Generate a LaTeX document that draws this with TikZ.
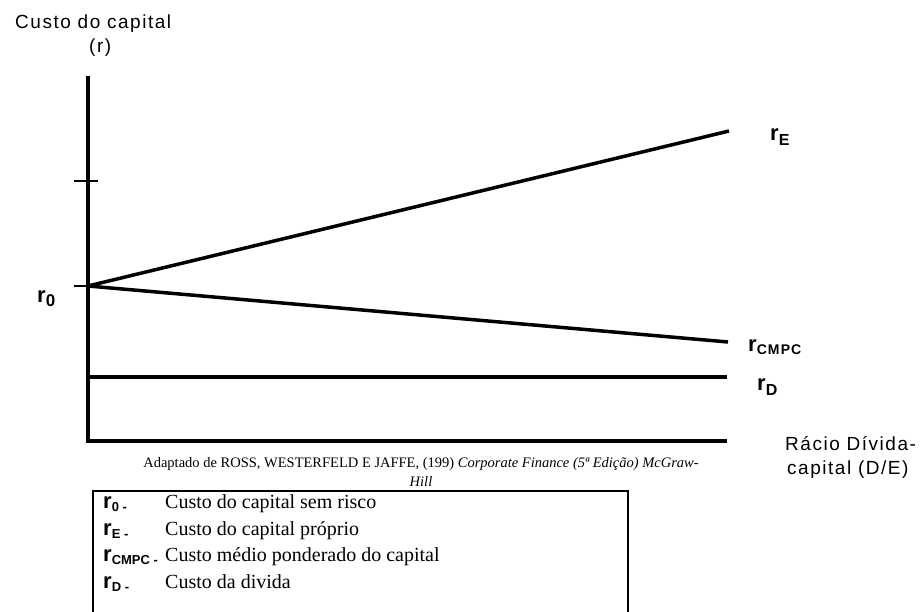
\documentclass[tikz,border=0pt]{standalone}
\usepackage{fontspec}
\setmainfont{Liberation Serif}
\newfontfamily\arial{Liberation Sans}
\newfontfamily\arialsp[LetterSpace=8]{Liberation Sans}
\begin{document}
\begin{tikzpicture}[x=1pt,y=-1pt,
  axis/.style={line width=4.5pt},
  curve/.style={line width=3.5pt},
  lab/.style={font=\arialsp\fontsize{19}{22}\selectfont, inner sep=0pt},
  rlab/.style={font=\arial\bfseries\fontsize{22}{24}\selectfont, inner sep=0pt, anchor=base west},
  captxt/.style={font=\fontsize{14.5}{16}\selectfont, inner sep=0pt},
  legr/.style={font=\arial\bfseries\fontsize{22}{24}\selectfont, inner sep=0pt, anchor=base west},
  legt/.style={font=\fontsize{20}{22}\selectfont, inner sep=0pt, anchor=base west}]
\useasboundingbox (0,0) rectangle (921,612);
\clip (0,0) rectangle (921,612);
% coordinates
\coordinate (top) at (88,76);
\coordinate (O) at (88,441);
\coordinate (xend) at (727,441);
\coordinate (r0p) at (88,286);
\coordinate (r0t) at (74,286);
\coordinate (tk1) at (74,181);
\coordinate (tk2) at (98,181);
\coordinate (rEend) at (729,131);
\coordinate (rWend) at (728,342);
\coordinate (rDs) at (88,377);
\coordinate (rDend) at (727,377);
% axes
\draw[axis] (top) -- (O) -- (xend);
\draw[line width=2.5pt] (tk1) -- (tk2);
\draw[line width=2.5pt] (r0t) -- (r0p);
% lines
\draw[curve] (r0p) -- (rEend);
\draw[curve] (r0p) -- (rWend);
\draw[axis] (rDs) -- (rDend);
% axis labels
\node[lab, anchor=base west] (ylab) at (15,29) {Custo do capital};
\node[lab, anchor=base west] (yr) at (89,53) {(r)};
\node[lab, anchor=base west] (xlab1) at (785,450) {Rácio Dívida-};
\node[lab, anchor=base west] (xlab2) at (787,474) {capital (D/E)};
% curve labels
\node[rlab] (l0) at (37,303) {r\raisebox{-4pt}{\arialsp\bfseries\fontsize{17}{18}\selectfont 0}};
\node[rlab] (lE) at (770,141) {r\raisebox{-5pt}{\arialsp\bfseries\fontsize{16}{18}\selectfont E}};
\node[rlab] (lW) at (748,351) {r\raisebox{-4pt}{\arialsp\bfseries\fontsize{14}{16}\selectfont CMPC}};
\node[rlab] (lD) at (757,390) {r\raisebox{-5pt}{\arialsp\bfseries\fontsize{16}{18}\selectfont D}};
% caption
\node[captxt, anchor=base] (c1) at (421,467) {Adaptado de ROSS, WESTERFELD E JAFFE, (199) \textit{Corporate Finance (5ª Edição) McGraw-}};
\node[captxt, anchor=base] (c2) at (421,486) {\textit{Hill}};
% legend box
\draw[line width=2.5pt] (93,620) -- (93,491) -- (628,491) -- (628,620);
\node[legr] (g0) at (103,508) {r\raisebox{-3pt}{\fontsize{13}{14}\selectfont 0 -}};
\node[legr] (gE) at (103,535) {r\raisebox{-3pt}{\fontsize{13}{14}\selectfont E -}};
\node[legr] (gW) at (103,561) {r\raisebox{-3pt}{\fontsize{13}{14}\selectfont CMPC -}};
\node[legr] (gD) at (103,588) {r\raisebox{-3pt}{\fontsize{13}{14}\selectfont D -}};
\node[legt] (t0) at (165,508) {Custo do capital sem risco};
\node[legt] (tE) at (165,535) {Custo do capital próprio};
\node[legt] (tW) at (165,561) {Custo médio ponderado do capital};
\node[legt] (tD) at (165,588) {Custo da divida};
\end{tikzpicture}
\end{document}
